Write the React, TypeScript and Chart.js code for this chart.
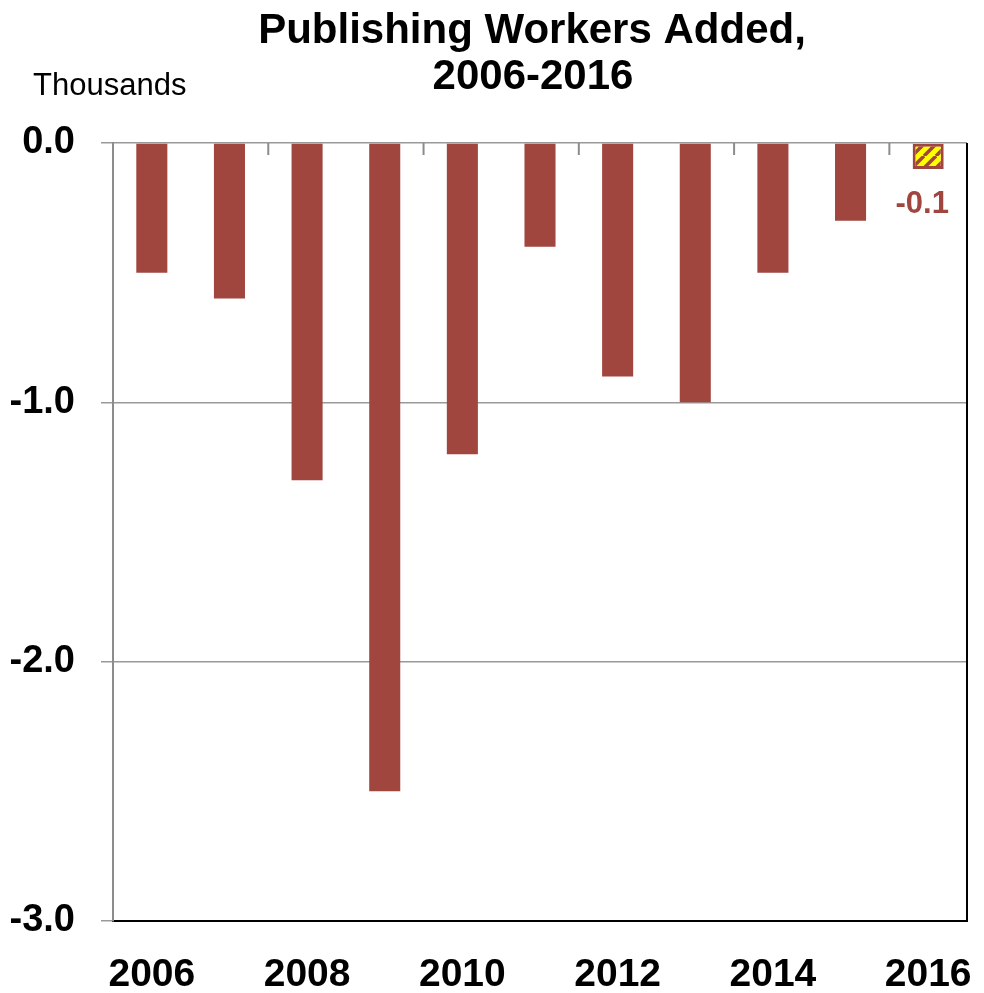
import React, { useEffect, useRef } from "react";
import { Chart, registerables } from "chart.js";

Chart.register(...registerables);

const years = ["2006", "2007", "2008", "2009", "2010", "2011", "2012", "2013", "2014", "2015", "2016"];
const workersAdded = [-0.5, -0.6, -1.3, -2.5, -1.2, -0.4, -0.9, -1.0, -0.5, -0.3, -0.1];
const preliminaryIndex = 10;
const preliminaryLabel = "-0.1";
const titleLines = ["Publishing Workers Added,", "2006-2016"];
const unitLabel = "Thousands";

const FONT = "'Liberation Sans', Arial, Helvetica, sans-serif";
const BROWN = "#A0463F";

function makePattern(): CanvasPattern | string {
  const n = 12;
  const c = document.createElement("canvas");
  c.width = n;
  c.height = n;
  const g = c.getContext("2d");
  if (!g) return "yellow";
  g.fillStyle = "#FFFF00";
  g.fillRect(0, 0, n, n);
  g.strokeStyle = BROWN;
  g.lineWidth = 3.5;
  g.beginPath();
  for (let k = -n; k <= n; k += n) {
    g.moveTo(k, n);
    g.lineTo(k + n, 0);
  }
  g.stroke();
  return g.createPattern(c, "repeat") || "yellow";
}

export default function App() {
  const ref = useRef<HTMLCanvasElement | null>(null);

  useEffect(() => {
    document.body.style.margin = "0";
    const canvas = ref.current;
    if (!canvas) return;
    const pattern = makePattern();

    const extras = {
      id: "extras",
      afterDraw(chart: any) {
        const ctx = chart.ctx;
        const area = chart.chartArea;
        const xs = chart.scales.x;
        const ys = chart.scales.y;
        ctx.save();
        // top tick marks at every other category boundary
        ctx.strokeStyle = "#8c8c8c";
        ctx.lineWidth = 2;
        const zeroY = ys.getPixelForValue(0);
        for (let i = 2; i < years.length; i += 2) {
          const x = (xs.getPixelForValue(i - 1) + xs.getPixelForValue(i)) / 2;
          ctx.beginPath();
          ctx.moveTo(x, zeroY);
          ctx.lineTo(x, zeroY + 12);
          ctx.stroke();
        }
        // right border
        ctx.strokeStyle = "#000";
        ctx.lineWidth = 2;
        ctx.beginPath();
        ctx.moveTo(area.right, area.top);
        ctx.lineTo(area.right, area.bottom + 1);
        ctx.stroke();
        // value label for preliminary bar
        const bar = chart.getDatasetMeta(0).data[preliminaryIndex];
        ctx.fillStyle = BROWN;
        ctx.font = `bold 31px ${FONT}`;
        ctx.textAlign = "center";
        ctx.textBaseline = "middle";
        ctx.fillText(preliminaryLabel, bar.x - 6, bar.y + 36);
        // title
        ctx.fillStyle = "#000";
        ctx.font = `bold 42px ${FONT}`;
        ctx.textBaseline = "alphabetic";
        ctx.fillText(titleLines[0], 532, 43);
        ctx.fillText(titleLines[1], 533, 89);
        // unit
        ctx.font = `31px ${FONT}`;
        ctx.textAlign = "left";
        ctx.fillText(unitLabel, 33, 95);
        ctx.restore();
      },
    };

    const chart = new Chart(canvas, {
      type: "bar",
      data: {
        labels: years,
        datasets: [
          {
            data: workersAdded,
            backgroundColor: years.map((_, i) => (i === preliminaryIndex ? pattern : BROWN)) as any,
            borderColor: BROWN,
            borderWidth: years.map((_, i) => (i === preliminaryIndex ? 3 : 0)),
            borderSkipped: false,
            barPercentage: 0.4,
            categoryPercentage: 1,
          },
        ],
      },
      options: {
        animation: false,
        responsive: true,
        maintainAspectRatio: false,
        layout: { padding: { top: 143, right: 17, left: 0, bottom: 0 } },
        plugins: {
          legend: { display: false },
          tooltip: { enabled: false },
          title: { display: false },
        },
        scales: {
          x: {
            grid: { display: false, drawTicks: false },
            border: { display: true, color: "#000", width: 2 },
            ticks: {
              autoSkip: false,
              maxRotation: 0,
              padding: 31,
              color: "#000",
              font: { family: FONT, size: 39, weight: "bold" },
              callback: (_v: any, i: number) => (i % 2 === 0 ? years[i] : ""),
            },
            afterFit: (s: any) => {
              s.height = 72;
              s.paddingLeft = 0;
              s.paddingRight = 0;
            },
          },
          y: {
            min: -3,
            max: 0,
            grid: { color: "#999", lineWidth: 1.5, tickLength: 12, drawTicks: true },
            border: { display: true, color: "#8c8c8c", width: 2 },
            ticks: {
              stepSize: 1,
              padding: 26,
              color: "#000",
              font: { family: FONT, size: 38, weight: "bold" },
              callback: (v: any) => Number(v).toFixed(1),
            },
            afterFit: (s: any) => {
              s.width = 113;
            },
          },
        },
      },
      plugins: [extras],
    });
    return () => chart.destroy();
  }, []);

  return (
    <div style={{ position: "absolute", left: 0, top: 0, width: 984, height: 993 }}>
      <canvas ref={ref} />
    </div>
  );
}
